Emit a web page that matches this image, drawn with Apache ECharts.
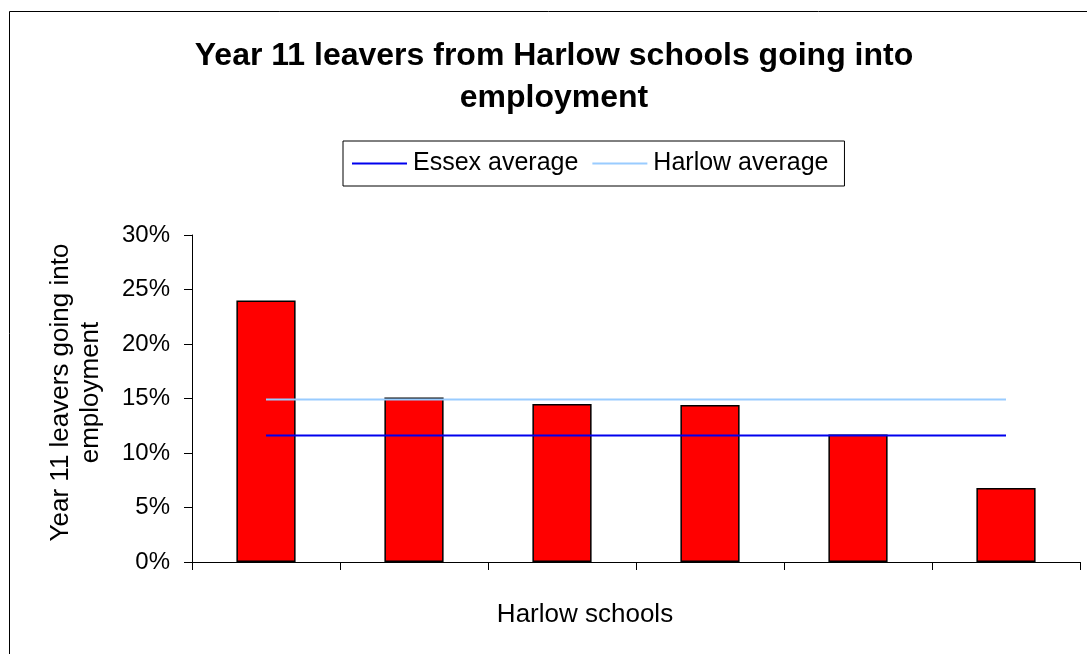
<!DOCTYPE html>
<html>
<head>
<meta charset="utf-8">
<title>Year 11 leavers from Harlow schools going into employment</title>
<script src="https://cdn.jsdelivr.net/npm/echarts@6/dist/echarts.min.js"></script>
<style>
  html, body { margin: 0; padding: 0; background: #ffffff; }
  #chart { width: 1087px; height: 654px; }
</style>
</head>
<body>
<div id="chart"></div>
<script>
// Share of Year 11 leavers going into employment, one bar per school
const schools = ['School 1', 'School 2', 'School 3', 'School 4', 'School 5', 'School 6'];
const employmentShare = [0.240, 0.151, 0.145, 0.144, 0.117, 0.068];

// Reference averages, drawn as flat lines across the schools
const essexAverage = 0.116;
const harlowAverage = 0.149;

const yTicks = { min: 0, max: 0.30, interval: 0.05 };

const FONT = '"Liberation Sans", Arial, sans-serif';

const chart = echarts.init(document.getElementById('chart'), null, { renderer: 'canvas' });

chart.setOption({
  animation: false,
  backgroundColor: '#ffffff',
  textStyle: { fontFamily: FONT, color: '#000' },
  graphic: [{
    type: 'rect',
    shape: { x: 9.5, y: 11.5, width: 1100, height: 700 },
    style: { fill: 'none', stroke: '#000', lineWidth: 1 },
    silent: true,
    z: -1
  }],
  title: {
    text: 'Year 11 leavers from Harlow schools going into\nemployment',
    left: 554,
    top: 35,
    padding: 0,
    textAlign: 'center',
    textStyle: {
      fontFamily: FONT,
      fontSize: 32,
      fontWeight: 'bold',
      color: '#000',
      lineHeight: 42
    }
  },
  legend: {
    left: 343,
    top: 141,
    padding: [10, 16, 10, 9],
    itemWidth: 55,
    itemHeight: 2,
    itemGap: 14,
    borderColor: '#000',
    borderWidth: 1,
    borderRadius: 0,
    textStyle: { fontFamily: FONT, fontSize: 25, color: '#000', padding: [0, 0, 0, 1] },
    data: [
      { name: 'Essex average', icon: 'rect' },
      { name: 'Harlow average', icon: 'rect' }
    ]
  },
  grid: {
    left: 192,
    right: 7,
    top: 235,
    bottom: 92,
    containLabel: false
  },
  xAxis: {
    type: 'category',
    data: schools,
    boundaryGap: true,
    name: 'Harlow schools',
    nameLocation: 'middle',
    nameGap: 40,
    nameTextStyle: { fontFamily: FONT, fontSize: 26, color: '#000', padding: [0, 102, 0, 0] },
    axisLine: { lineStyle: { color: '#000', width: 1 } },
    axisTick: { show: true, length: 8, alignWithLabel: false, lineStyle: { color: '#000' } },
    axisLabel: { show: false },
    splitLine: { show: false }
  },
  yAxis: {
    type: 'value',
    min: yTicks.min,
    max: yTicks.max,
    interval: yTicks.interval,
    name: 'Year 11 leavers going into\nemployment',
    nameLocation: 'middle',
    nameRotate: 90,
    nameGap: 86,
    nameTextStyle: { fontFamily: FONT, fontSize: 26, color: '#000', lineHeight: 30, padding: [0, 0, 0, 12] },
    axisLine: { show: true, lineStyle: { color: '#000', width: 1 } },
    axisTick: { show: true, length: 8, lineStyle: { color: '#000' } },
    axisLabel: {
      margin: 22,
      fontFamily: FONT,
      fontSize: 24,
      color: '#000',
      formatter: v => Math.round(v * 100) + '%'
    },
    splitLine: { show: false }
  },
  series: [
    {
      name: 'Employment',
      type: 'bar',
      data: employmentShare,
      barCategoryGap: '60%',
      itemStyle: { color: '#ff0000', borderColor: '#000', borderWidth: 1.5 },
      z: 2
    },
    {
      name: 'Essex average',
      type: 'line',
      data: schools.map(() => essexAverage),
      symbol: 'none',
      color: '#0000ee',
      lineStyle: { color: '#0000ee', width: 2 },
      z: 3
    },
    {
      name: 'Harlow average',
      type: 'line',
      data: schools.map(() => harlowAverage),
      symbol: 'none',
      color: '#99ccff',
      lineStyle: { color: '#99ccff', width: 2 },
      z: 3
    }
  ]
});
</script>
</body>
</html>
